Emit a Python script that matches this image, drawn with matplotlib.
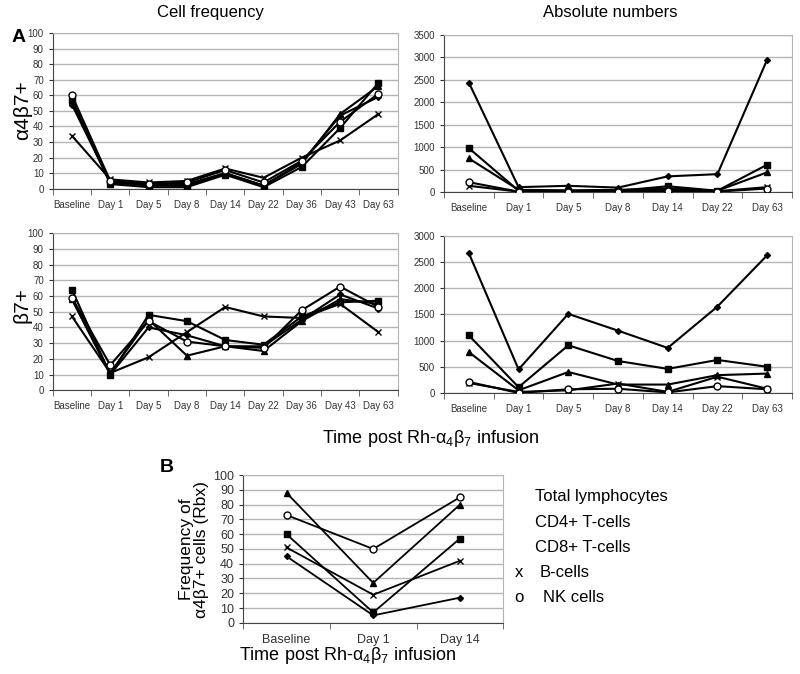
import numpy as np
import matplotlib
matplotlib.use('Agg')
import matplotlib.pyplot as plt

plt.rcParams['font.family'] = ['Liberation Sans', 'DejaVu Sans']

dias9 = ['Baseline', 'Day 1', 'Day 5', 'Day 8', 'Day 14', 'Day 22', 'Day 36', 'Day 43', 'Day 63']
dias7 = ['Baseline', 'Day 1', 'Day 5', 'Day 8', 'Day 14', 'Day 22', 'Day 63']
dias3 = ['Baseline', 'Day 1', 'Day 14']

series = ['Total lymphocytes', 'CD4+ T-cells', 'CD8+ T-cells', 'B-cells', 'NK cells']

# a4b7+ frecuencia
a4b7_frec = {
    'Total lymphocytes': [54, 4, 3, 3, 10, 2, 17, 47, 59],
    'CD4+ T-cells': [57, 3, 1, 1, 9, 1, 14, 39, 68],
    'CD8+ T-cells': [56, 4, 2, 2, 10, 2, 16, 48, 66],
    'B-cells': [34, 6, 4, 5, 13, 7, 20, 31, 48],
    'NK cells': [60, 5, 3, 4, 12, 4, 18, 43, 61],
}
# a4b7+ numeros absolutos
a4b7_abs = {
    'Total lymphocytes': [2440, 110, 140, 100, 350, 400, 2950],
    'CD4+ T-cells': [980, 30, 20, 30, 130, 30, 610],
    'CD8+ T-cells': [750, 50, 40, 50, 80, 30, 440],
    'B-cells': [140, 10, 10, 20, 50, 20, 110],
    'NK cells': [220, 10, 10, 10, 20, 10, 80],
}
# b7+ frecuencia
b7_frec = {
    'Total lymphocytes': [58, 10, 40, 35, 28, 28, 45, 61, 52],
    'CD4+ T-cells': [64, 10, 48, 44, 32, 29, 47, 56, 57],
    'CD8+ T-cells': [58, 11, 45, 22, 28, 25, 44, 58, 55],
    'B-cells': [47, 11, 21, 37, 53, 47, 46, 55, 37],
    'NK cells': [59, 16, 44, 31, 28, 27, 51, 66, 53],
}
# b7+ numeros absolutos
b7_abs = {
    'Total lymphocytes': [2670, 450, 1510, 1190, 860, 1650, 2630],
    'CD4+ T-cells': [1100, 110, 910, 610, 460, 630, 500],
    'CD8+ T-cells': [780, 50, 400, 160, 160, 340, 370],
    'B-cells': [190, 20, 50, 180, 20, 310, 80],
    'NK cells': [210, 0, 70, 80, 10, 130, 70],
}
# panel B
rbx_frec = {
    'Total lymphocytes': [45, 5, 17],
    'CD4+ T-cells': [60, 7, 57],
    'CD8+ T-cells': [88, 27, 80],
    'B-cells': [51, 19, 42],
    'NK cells': [73, 50, 85],
}

estilos = {
    'Total lymphocytes': dict(marker='D', ms=3, mfc='black'),
    'CD4+ T-cells': dict(marker='s', ms=5, mfc='black'),
    'CD8+ T-cells': dict(marker='^', ms=5, mfc='black'),
    'B-cells': dict(marker='x', ms=5, mew=1),
    'NK cells': dict(marker='o', ms=5, mfc='white', mew=1),
}


def graficar(ax, datos, cats, ymax, paso, tick_fs=7, lw=1.5):
    x = np.arange(len(cats))
    for s in series:
        ax.plot(x, datos[s], color='black', lw=lw, mec='black', **estilos[s], zorder=3)
    ax.set_xlim(-0.5, len(cats) - 0.5)
    ax.set_ylim(0, ymax)
    ax.set_yticks(np.arange(0, ymax + 1, paso))
    ax.set_xticks(x)
    ax.set_xticklabels(cats)
    ax.set_xticks(np.arange(-0.5, len(cats), 1), minor=True)
    ax.tick_params(axis='x', which='major', length=0, pad=8, labelsize=tick_fs, colors='#333333')
    ax.tick_params(axis='x', which='minor', length=4, color='#555555')
    ax.tick_params(axis='y', length=3, labelsize=tick_fs, colors='#333333')
    ax.grid(axis='y', color='#b5b5b5', lw=1)
    ax.set_axisbelow(True)
    for lado in ['top', 'right']:
        ax.spines[lado].set_color('#b5b5b5')
    ax.spines['left'].set_color('#444444')
    ax.spines['bottom'].set_color('#444444')


fig = plt.figure(figsize=(8, 6.74), dpi=100)

ax1 = fig.add_axes([0.066, 0.720, 0.431, 0.231])
graficar(ax1, a4b7_frec, dias9, 100, 10)
ax2 = fig.add_axes([0.555, 0.715, 0.435, 0.233])
graficar(ax2, a4b7_abs, dias7, 3500, 500)
ax3 = fig.add_axes([0.066, 0.421, 0.431, 0.233])
graficar(ax3, b7_frec, dias9, 100, 10)
ax4 = fig.add_axes([0.555, 0.417, 0.435, 0.233])
graficar(ax4, b7_abs, dias7, 3000, 500)
ax5 = fig.add_axes([0.304, 0.076, 0.325, 0.219])
graficar(ax5, rbx_frec, dias3, 100, 10, tick_fs=9, lw=1.3)

fig.text(0.263, 0.982, 'Cell frequency', ha='center', va='center', fontsize=12)
fig.text(0.763, 0.982, 'Absolute numbers', ha='center', va='center', fontsize=12)
fig.text(0.015, 0.944, 'A', fontsize=14, fontweight='bold', va='center')
fig.text(0.028, 0.836, 'α4β7+', rotation=90, ha='center', va='center', fontsize=15)
fig.text(0.028, 0.547, 'β7+', rotation=90, ha='center', va='center', fontsize=15)
fig.text(0.538, 0.350, r'Time post Rh-$\mathregular{\alpha_4\beta_7}$ infusion', ha='center', va='center', fontsize=13)

fig.text(0.2, 0.306, 'B', fontsize=14, fontweight='bold', va='center')
fig.text(0.242, 0.185, 'Frequency of\nα4β7+ cells (Rbx)', rotation=90,
         ha='center', va='center', fontsize=12.5, linespacing=1.0)
fig.text(0.435, 0.028, r'Time post Rh-$\mathregular{\alpha_4\beta_7}$ infusion', ha='center', va='center', fontsize=13)

ley_y = [0.263, 0.225, 0.188, 0.151, 0.114]
fig.text(0.669, ley_y[0], 'Total lymphocytes', fontsize=12, va='center')
fig.text(0.669, ley_y[1], 'CD4+ T-cells', fontsize=12, va='center')
fig.text(0.669, ley_y[2], 'CD8+ T-cells', fontsize=12, va='center')
fig.text(0.643, ley_y[3], 'x', fontsize=12, va='center')
fig.text(0.675, ley_y[3], 'B-cells', fontsize=12, va='center')
fig.text(0.643, ley_y[4], 'o', fontsize=12, va='center')
fig.text(0.679, ley_y[4], 'NK cells', fontsize=12, va='center')

plt.savefig('out.png', dpi=100)
